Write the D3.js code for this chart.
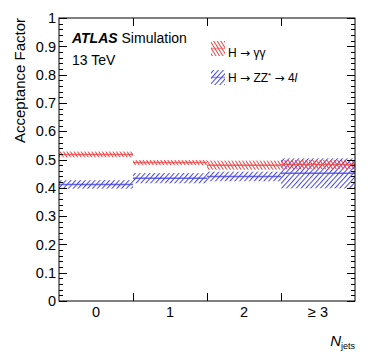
<!DOCTYPE html>
<html>
<head>
<meta charset="utf-8">
<script src="https://cdn.jsdelivr.net/npm/d3@7"></script>
<style>
  body { margin: 0; background: #fff; }
  text { font-family: "Liberation Sans", Arial, sans-serif; }
  .arrow { font-family: "DejaVu Sans", sans-serif; }
</style>
</head>
<body>
<div id="chart"></div>
<script>
// bins and tick labels
const categories = ["0", "1", "2", "\u2265 3"];
const yTicks = [0, 0.1, 0.2, 0.3, 0.4, 0.5, 0.6, 0.7, 0.8, 0.9, 1];

// H -> gamma gamma
const yyValue = [0.518, 0.489, 0.480, 0.482];
const yyError = [0.010, 0.009, 0.016, 0.016];

// H -> ZZ* -> 4l
const zzValue = [0.412, 0.434, 0.440, 0.451];
const zzError = [0.015, 0.018, 0.017, 0.053];

const W = 374, H = 359;
const margin = {top: 18, right: 19, bottom: 58, left: 59};

const svg = d3.select("#chart").append("svg")
    .attr("width", W)
    .attr("height", H);

const x = d3.scaleLinear()
    .domain([-0.5, categories.length - 0.5])
    .range([margin.left, W - margin.right]);

const y = d3.scaleLinear()
    .domain([0, 1])
    .range([H - margin.bottom, margin.top]);

const red = "#ee4444", blue = "#4444dd";

// hatch patterns
const defs = svg.append("defs");
function hatch(id, color, angle, gap) {
    const p = defs.append("pattern")
        .attr("id", id)
        .attr("patternUnits", "userSpaceOnUse")
        .attr("width", gap)
        .attr("height", 10)
        .attr("patternTransform", "rotate(" + angle + ")");
    p.append("line")
        .attr("x1", 0.5).attr("y1", 0)
        .attr("x2", 0.5).attr("y2", 10)
        .attr("stroke", color)
        .attr("stroke-width", 1);
}
hatch("hatchRed", red, -32, 3);
hatch("hatchBlue", blue, 42, 3.6);

const bins = categories.map((c, i) => i);

function drawSeries(values, errors, color, fillId) {
    const g = svg.append("g");
    g.selectAll("rect")
        .data(bins)
        .join("rect")
        .attr("x", i => x(i - 0.5))
        .attr("width", i => x(i + 0.5) - x(i - 0.5))
        .attr("y", i => y(values[i] + errors[i]))
        .attr("height", i => y(values[i] - errors[i]) - y(values[i] + errors[i]))
        .attr("fill", "url(#" + fillId + ")");
    g.selectAll("line")
        .data(bins)
        .join("line")
        .attr("x1", i => x(i - 0.5))
        .attr("x2", i => x(i + 0.5))
        .attr("y1", i => y(values[i]))
        .attr("y2", i => y(values[i]))
        .attr("stroke", color)
        .attr("stroke-opacity", 0.8)
        .attr("stroke-width", 1.5);
}

drawSeries(zzValue, zzError, blue, "hatchBlue");
drawSeries(yyValue, yyError, red, "hatchRed");

// frame
svg.append("rect")
    .attr("x", x.range()[0])
    .attr("y", y.range()[1])
    .attr("width", x.range()[1] - x.range()[0])
    .attr("height", y.range()[0] - y.range()[1])
    .attr("fill", "none")
    .attr("stroke", "#000")
    .attr("stroke-width", 1);

// y ticks (major + minor), both sides
const axisG = svg.append("g").attr("stroke", "#000").attr("stroke-width", 1);
const minor = d3.range(0, 1.0001, 0.02);
minor.forEach(v => {
    const isMajor = Math.abs(v * 10 - Math.round(v * 10)) < 1e-6;
    const len = isMajor ? 8 : 4;
    const yy = Math.round(y(v)) + 0.5;
    axisG.append("line")
        .attr("x1", x.range()[0]).attr("x2", x.range()[0] + len)
        .attr("y1", yy).attr("y2", yy);
    axisG.append("line")
        .attr("x1", x.range()[1]).attr("x2", x.range()[1] - len)
        .attr("y1", yy).attr("y2", yy);
});

// x ticks at bin edges, top and bottom
d3.range(0.5, categories.length - 0.5, 1).forEach(v => {
    const xx = Math.round(x(v)) + 0.5;
    axisG.append("line")
        .attr("x1", xx).attr("x2", xx)
        .attr("y1", y.range()[0]).attr("y2", y.range()[0] - 8);
    axisG.append("line")
        .attr("x1", xx).attr("x2", xx)
        .attr("y1", y.range()[1]).attr("y2", y.range()[1] + 8);
});

// y tick labels
svg.append("g").selectAll("text")
    .data(yTicks)
    .join("text")
    .attr("x", x.range()[0] - 3)
    .attr("y", d => y(d))
    .attr("dy", "0.36em")
    .attr("text-anchor", "end")
    .attr("font-size", 14.5)
    .text(d => d3.format("~g")(d));

// x tick labels
svg.append("g").selectAll("text")
    .data(categories)
    .join("text")
    .attr("x", (d, i) => x(i))
    .attr("y", y.range()[0] + 16)
    .attr("text-anchor", "middle")
    .attr("font-size", 14.5)
    .text(d => d);

// axis titles
svg.append("text")
    .attr("transform", "translate(25," + y.range()[1] + ") rotate(-90)")
    .attr("text-anchor", "end")
    .attr("font-size", 15)
    .text("Acceptance Factor");

const xt = svg.append("text")
    .attr("x", W - margin.right)
    .attr("y", 346)
    .attr("text-anchor", "end");
xt.append("tspan").attr("font-size", 15).attr("font-style", "italic").text("N");
xt.append("tspan").attr("font-size", 9).attr("dy", 3).text("jets");

// ATLAS label
const at = svg.append("text").attr("x", 72).attr("y", 43).attr("font-size", 14);
at.append("tspan").attr("font-weight", "bold").attr("font-style", "italic").text("ATLAS");
at.append("tspan").text(" Simulation");
svg.append("text").attr("x", 72).attr("y", 65).attr("font-size", 14).text("13 TeV");

// legend
const legend = [
    {fill: "hatchRed", color: red, y: 41},
    {fill: "hatchBlue", color: blue, y: 70}
];
legend.forEach(l => {
    svg.append("rect")
        .attr("x", 211).attr("y", l.y)
        .attr("width", 14).attr("height", 15)
        .attr("fill", "url(#" + l.fill + ")");
    svg.append("line")
        .attr("x1", 211).attr("x2", 225)
        .attr("y1", l.y + 7.5).attr("y2", l.y + 7.5)
        .attr("stroke", l.color).attr("stroke-opacity", 0.5).attr("stroke-width", 1.5);
});
const t1 = svg.append("text").attr("x", 228).attr("y", 57).attr("font-size", 12);
t1.append("tspan").text("H ");
t1.append("tspan").attr("class", "arrow").text("\u2192");
t1.append("tspan").text(" \u03b3\u03b3");
const t2 = svg.append("text").attr("x", 228).attr("y", 82).attr("font-size", 12);
t2.append("tspan").text("H ");
t2.append("tspan").attr("class", "arrow").text("\u2192");
t2.append("tspan").text(" ZZ");
t2.append("tspan").attr("font-size", 8).attr("dy", -4).text("*");
t2.append("tspan").attr("dy", 4).text(" ");
t2.append("tspan").attr("class", "arrow").text("\u2192");
t2.append("tspan").text(" 4");
t2.append("tspan").attr("font-style", "italic").text("l");
</script>
</body>
</html>
